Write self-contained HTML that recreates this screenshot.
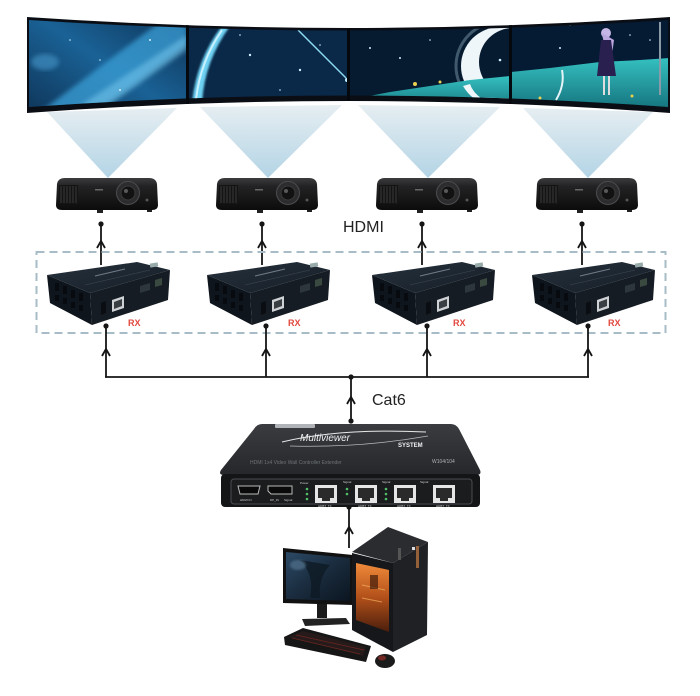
<!DOCTYPE html>
<html><head><meta charset="utf-8"><style>
html,body{margin:0;padding:0;background:#fff;}
svg{display:block;}
</style></head><body>
<svg width="700" height="696" viewBox="0 0 700 696" xmlns="http://www.w3.org/2000/svg" font-family="Liberation Sans, sans-serif">
<defs>
  <linearGradient id="cone" x1="0" y1="0" x2="0" y2="1">
    <stop offset="0" stop-color="#e6eef2"/>
    <stop offset="1" stop-color="#b3d4e5"/>
  </linearGradient>
  <linearGradient id="projG" x1="0" y1="0" x2="0" y2="1">
    <stop offset="0" stop-color="#3c3c3e"/>
    <stop offset="0.25" stop-color="#232325"/>
    <stop offset="1" stop-color="#0c0c0d"/>
  </linearGradient>
  <linearGradient id="rxTop" x1="0" y1="0" x2="1" y2="1">
    <stop offset="0" stop-color="#26313c"/>
    <stop offset="1" stop-color="#161e27"/>
  </linearGradient>
  <linearGradient id="txTop" x1="0" y1="0" x2="0" y2="1">
    <stop offset="0" stop-color="#3a3c40"/>
    <stop offset="1" stop-color="#25272b"/>
  </linearGradient>
  <linearGradient id="p1" x1="0" y1="1" x2="1" y2="0">
    <stop offset="0" stop-color="#0e3356"/>
    <stop offset="0.5" stop-color="#1a6296"/>
    <stop offset="1" stop-color="#0c2e50"/>
  </linearGradient>
  <linearGradient id="grass" x1="0" y1="0" x2="0" y2="1">
    <stop offset="0" stop-color="#35c0c0"/>
    <stop offset="1" stop-color="#136f7a"/>
  </linearGradient>
  <linearGradient id="mon" x1="0" y1="0" x2="1" y2="1">
    <stop offset="0" stop-color="#2c4a66"/>
    <stop offset="0.5" stop-color="#1a2c3e"/>
    <stop offset="1" stop-color="#0b1520"/>
  </linearGradient>
  <linearGradient id="orange" x1="0" y1="0" x2="0" y2="1">
    <stop offset="0" stop-color="#f08a3a"/>
    <stop offset="0.5" stop-color="#b2501a"/>
    <stop offset="1" stop-color="#4a1e0c"/>
  </linearGradient>
  <filter id="blur2"><feGaussianBlur stdDeviation="2.5"/></filter>
  <filter id="blur1"><feGaussianBlur stdDeviation="1"/></filter>
  <clipPath id="scr"><path d="M29,20 Q350,41 668,20 L668,107 Q350,84 29,107 Z"/></clipPath>
  <clipPath id="frame"><path d="M27,17 Q350,39 670,17 L670,113 Q350,89 27,113 Z"/></clipPath>
  <clipPath id="c1"><rect x="29" y="10" width="158" height="110"/></clipPath>
  <clipPath id="c2"><rect x="188" y="10" width="160" height="110"/></clipPath>
  <clipPath id="c3"><rect x="349" y="10" width="161" height="110"/></clipPath>
  <clipPath id="c4"><rect x="511" y="10" width="158" height="110"/></clipPath>

  <g id="proj">
    <path d="M2,6 Q3,0 10,0 L94,0 Q101,0 102,6 L103,27 Q103,32 97,32 L7,32 Q1,32 1,27 Z" fill="url(#projG)"/>
    <rect x="4" y="7" width="19" height="19" fill="#141414"/>
    <g stroke="#3a3a3a" stroke-width="1">
      <line x1="6" y1="8" x2="6" y2="25"/><line x1="9" y1="8" x2="9" y2="25"/><line x1="12" y1="8" x2="12" y2="25"/>
      <line x1="15" y1="8" x2="15" y2="25"/><line x1="18" y1="8" x2="18" y2="25"/><line x1="21" y1="8" x2="21" y2="25"/>
    </g>
    <rect x="40" y="11" width="8" height="1.5" fill="#666"/>
    <circle cx="73" cy="15" r="11.5" fill="#2c2c2e" stroke="#4c4c4e" stroke-width="1"/>
    <circle cx="73" cy="15" r="7" fill="#121213" stroke="#3a3a3a" stroke-width="1"/>
    <circle cx="71" cy="13" r="2" fill="#5a5a5a"/>
    <circle cx="92" cy="22" r="1.5" fill="#555"/>
    <rect x="42" y="32" width="6" height="3" fill="#222"/>
    <rect x="92" y="32" width="5" height="2" fill="#222"/>
  </g>

  <g id="rx">
    <polygon points="47,275 90,293 92,325 50,303" fill="#0f151c"/>
    <polygon points="47,275 137,262 170,270 90,293" fill="url(#rxTop)"/>
    <polygon points="90,293 170,270 168,300 92,325" fill="#151c24"/>
    <g fill="#070b10">
      <rect x="55" y="283" width="4" height="8"/><rect x="63" y="286" width="4" height="8"/>
      <rect x="71" y="290" width="4" height="8"/><rect x="79" y="293" width="4" height="8"/>
      <rect x="55" y="295" width="4" height="6"/><rect x="63" y="298" width="4" height="6"/>
      <rect x="71" y="302" width="4" height="6"/><rect x="79" y="305" width="4" height="6"/>
    </g>
    <line x1="95" y1="276" x2="125" y2="269" stroke="#6f7c88" stroke-width="1"/>
    <line x1="85" y1="285" x2="150" y2="270" stroke="#3c4854" stroke-width="0.6"/>
    <rect x="150" y="263" width="8" height="4" fill="#9aa" transform="rotate(-9 154 265)"/>
    <polygon points="112,300 124,296 124,308 112,312" fill="#cfd2d4"/>
    <polygon points="114,302 122,299 122,306 114,309" fill="#3a3f44"/>
    <polygon points="101,303 106,301 106,313 101,315" fill="#0a0e12"/>
    <polygon points="140,286 150,283 150,290 140,293" fill="#2d353d"/>
    <polygon points="155,280 162,278 162,285 155,287" fill="#3b4a40"/>
  </g>
</defs>

<!-- light cones -->
<polygon points="47,112 177,108 108,178" fill="url(#cone)"/>
<polygon points="200,107 342,105 268,178" fill="url(#cone)"/>
<polygon points="358,105 500,107 428,178" fill="url(#cone)"/>
<polygon points="523,108 653,112 588,178" fill="url(#cone)"/>

<!-- screens frame -->
<path d="M27,17 Q350,39 670,17 L670,113 Q350,89 27,113 Z" fill="#0a0e14"/>
<g clip-path="url(#scr)">
  <g clip-path="url(#c1)">
    <rect x="29" y="10" width="158" height="110" fill="url(#p1)"/>
    <path d="M40,112 L95,112 L187,45 L187,18 L165,18 Z" fill="#3a9fd6" opacity="0.75" filter="url(#blur2)"/>
    <path d="M70,112 L100,112 L187,50 L187,35 Z" fill="#7fcdf0" opacity="0.5" filter="url(#blur2)"/>
    <ellipse cx="45" cy="62" rx="14" ry="8" fill="#3f8ec0" opacity="0.7" filter="url(#blur2)"/>
  </g>
  <g clip-path="url(#c2)">
    <rect x="188" y="10" width="160" height="110" fill="#0a2848"/>
    <path d="M192,104 Q196,60 222,26 L230,26 Q204,62 202,104 Z" fill="#6ed2f3" filter="url(#blur1)"/>
    <path d="M196,100 Q200,62 222,30" stroke="#c8f0ff" stroke-width="2" fill="none"/>
    <line x1="298" y1="30" x2="346" y2="78" stroke="#8fd8f0" stroke-width="1.5"/>
    <circle cx="347" cy="80" r="2" fill="#bfefff"/>
  </g>
  <g clip-path="url(#c3)">
    <rect x="349" y="10" width="161" height="110" fill="#061a30"/>
    <circle cx="500" cy="66" r="44" fill="none" stroke="#9ab8c8" stroke-width="3" opacity="0.4"/>
    <circle cx="500" cy="66" r="39" fill="#eef6fa"/>
    <circle cx="513" cy="62" r="34" fill="#061a30"/>
    <polygon points="349,100 390,92 430,86 470,80 510,76 510,112 349,112" fill="url(#grass)"/>
    <path d="M463,86 Q470,98 482,103 L490,103 Q474,96 470,84 Z" fill="#eef6fa"/>
    <circle cx="415" cy="84" r="2" fill="#e8d050"/>
    <circle cx="440" cy="82" r="1.5" fill="#e8d050"/>
  </g>
  <g clip-path="url(#c4)">
    <rect x="511" y="10" width="158" height="110" fill="#051a33"/>
    <polygon points="511,72 550,68 600,62 640,60 669,58 669,112 511,112" fill="url(#grass)"/>
    <line x1="660" y1="22" x2="660" y2="95" stroke="#8a9aa6" stroke-width="2"/>
    <path d="M556,100 Q565,85 562,70" stroke="#e6f4f8" stroke-width="2" fill="none"/>
    <circle cx="606" cy="33" r="5" fill="#c6b6e6"/>
    <path d="M602,33 Q603,45 612,55 L614,40 Z" fill="#b8a6dc"/>
    <polygon points="601,40 611,40 616,76 597,76" fill="#2a2050"/>
    <line x1="604" y1="76" x2="604" y2="95" stroke="#ddd" stroke-width="2"/>
    <line x1="609" y1="76" x2="609" y2="95" stroke="#ddd" stroke-width="2"/>
    <circle cx="540" cy="98" r="1.5" fill="#e8d050"/>
    <circle cx="632" cy="96" r="1.5" fill="#e8d050"/>
  </g>
  <g fill="#cfefff">
    <circle cx="150" cy="40" r="1"/><circle cx="120" cy="90" r="1"/><circle cx="70" cy="40" r="0.8"/><circle cx="100" cy="60" r="0.8"/>
    <circle cx="250" cy="55" r="1.2"/><circle cx="300" cy="70" r="1.2"/><circle cx="240" cy="35" r="0.8"/><circle cx="280" cy="90" r="0.8"/><circle cx="320" cy="45" r="0.8"/>
    <circle cx="370" cy="48" r="1"/><circle cx="400" cy="58" r="1"/><circle cx="430" cy="40" r="0.8"/><circle cx="500" cy="60" r="1.3"/>
    <circle cx="560" cy="48" r="1"/><circle cx="570" cy="25" r="0.8"/><circle cx="630" cy="35" r="0.8"/><circle cx="650" cy="40" r="0.8"/>
  </g>
</g>
<!-- dividers -->
<g stroke="#05080c" stroke-width="3" clip-path="url(#frame)">
  <line x1="187.5" y1="10" x2="187.5" y2="120"/>
  <line x1="348.5" y1="10" x2="348.5" y2="120"/>
  <line x1="510.5" y1="10" x2="510.5" y2="120"/>
</g>

<!-- projectors -->
<use href="#proj" x="55" y="178"/>
<use href="#proj" x="215" y="178"/>
<use href="#proj" x="375" y="178"/>
<use href="#proj" x="535" y="178"/>

<!-- top connectors -->
<g stroke="#151515" stroke-width="1.8" fill="none">
  <line x1="101" y1="224" x2="101" y2="265"/>
  <line x1="262" y1="224" x2="262" y2="265"/>
  <line x1="422" y1="224" x2="422" y2="265"/>
  <line x1="582" y1="224" x2="582" y2="265"/>
  <path d="M97,248 L101,241 L105,248"/>
  <path d="M258,248 L262,241 L266,248"/>
  <path d="M418,248 L422,241 L426,248"/>
  <path d="M578,248 L582,241 L586,248"/>
</g>
<g fill="#151515">
  <circle cx="101" cy="224" r="2.6"/><circle cx="262" cy="224" r="2.6"/>
  <circle cx="422" cy="224" r="2.6"/><circle cx="582" cy="224" r="2.6"/>
</g>
<text x="343" y="232" font-size="16" fill="#222">HDMI</text>

<!-- dashed box -->
<rect x="36.5" y="252" width="629" height="81" fill="none" stroke="#a7bcc7" stroke-width="2" stroke-dasharray="8 5"/>

<!-- RX boxes -->
<use href="#rx" x="0" y="0"/>
<use href="#rx" x="160" y="0"/>
<use href="#rx" x="325" y="0"/>
<use href="#rx" x="485" y="0"/>
<g font-size="9" font-weight="bold" fill="#e2463c">
  <text x="128" y="326">RX</text>
  <text x="288" y="326">RX</text>
  <text x="453" y="326">RX</text>
  <text x="608" y="326">RX</text>
</g>

<!-- lower connectors -->
<g stroke="#151515" stroke-width="1.8" fill="none">
  <line x1="106" y1="326" x2="106" y2="377"/>
  <line x1="266" y1="326" x2="266" y2="377"/>
  <line x1="427" y1="326" x2="427" y2="377"/>
  <line x1="588" y1="326" x2="588" y2="377"/>
  <line x1="105" y1="377" x2="589" y2="377"/>
  <line x1="351" y1="377" x2="351" y2="421"/>
  <path d="M102,356 L106,349 L110,356"/>
  <path d="M262,356 L266,349 L270,356"/>
  <path d="M423,356 L427,349 L431,356"/>
  <path d="M584,356 L588,349 L592,356"/>
  <path d="M347,404 L351,397 L355,404"/>
  <line x1="349" y1="507" x2="349" y2="548"/>
  <path d="M345,534 L349,527 L353,534"/>
</g>
<g fill="#151515">
  <circle cx="106" cy="326" r="2.6"/><circle cx="266" cy="326" r="2.6"/>
  <circle cx="427" cy="326" r="2.6"/><circle cx="588" cy="326" r="2.6"/>
  <circle cx="351" cy="377" r="2.6"/>
  <circle cx="351" cy="421" r="2.6"/>
  <circle cx="349" cy="507" r="2.6"/>
</g>
<text x="372" y="405" font-size="16" fill="#222">Cat6</text>

<!-- TX box -->
<path d="M262,424 L451,424 Q456,424 459,429 L480,470 Q482,475 476,475 L224,475 Q218,475 221,470 L254,429 Q257,424 262,424 Z" fill="url(#txTop)"/>
<rect x="221" y="474" width="259" height="33" rx="4" fill="#141517"/>
<rect x="231" y="479" width="241" height="25" rx="3" fill="#1b1c1e" stroke="#4a4c50" stroke-width="1"/>
<rect x="275" y="424" width="40" height="4" rx="1" fill="#cfd3d8" opacity="0.8"/>
<path d="M282,442 Q340,428 426,432" stroke="#e8e8e8" stroke-width="1" fill="none"/>
<path d="M290,446 Q360,448 428,436" stroke="#bbb" stroke-width="0.8" fill="none"/>
<text x="300" y="441" font-size="10" font-style="italic" fill="#f0f0f0">Multiviewer</text>
<text x="398" y="447" font-size="6" font-weight="bold" fill="#f0f0f0">SYSTEM</text>
<text x="250" y="464" font-size="5" fill="#6f7276">HDMI 1x4 Video Wall Controller Extender</text>
<text x="432" y="463" font-size="5" fill="#b0b3b6">W104/104</text>
<path d="M238,486 L260,486 L258,494 L240,494 Z" fill="#0a0a0a" stroke="#bbb" stroke-width="1"/>
<path d="M268,486 L292,486 L292,494 L271,494 L268,491 Z" fill="#0a0a0a" stroke="#bbb" stroke-width="1"/>
<g fill="#e6e6e6">
  <rect x="315" y="485" width="22" height="18"/><rect x="355" y="485" width="22" height="18"/>
  <rect x="394" y="485" width="22" height="18"/><rect x="433" y="485" width="22" height="18"/>
</g>
<g fill="#2a2a2a">
  <rect x="318" y="488" width="16" height="10"/><rect x="358" y="488" width="16" height="10"/>
  <rect x="397" y="488" width="16" height="10"/><rect x="436" y="488" width="16" height="10"/>
  <rect x="322" y="498" width="8" height="3"/><rect x="362" y="498" width="8" height="3"/>
  <rect x="401" y="498" width="8" height="3"/><rect x="440" y="498" width="8" height="3"/>
</g>
<g fill="#4ec06a">
  <circle cx="307" cy="489" r="1.3"/><circle cx="307" cy="494" r="1.3"/><circle cx="307" cy="499" r="1.3"/>
  <circle cx="347" cy="489" r="1.3"/><circle cx="347" cy="494" r="1.3"/>
  <circle cx="386" cy="489" r="1.3"/><circle cx="386" cy="494" r="1.3"/><circle cx="386" cy="499" r="1.3"/>
</g>
<g font-size="3" fill="#cfcfcf">
  <text x="240" y="501">HDMI IN</text><text x="270" y="501">DP_IN</text><text x="284" y="501">Signal</text>
  <text x="318" y="507">HDBT_TX</text><text x="358" y="507">HDBT_TX</text><text x="397" y="507">HDBT_TX</text><text x="436" y="507">HDBT_TX</text>
  <text x="300" y="484">Power</text><text x="343" y="483">Signal</text><text x="382" y="483">Signal</text><text x="420" y="483">Signal</text>
</g>

<!-- PC -->
<polygon points="283,548 353,555 353,605 283,603" fill="#111"/>
<polygon points="286,552 350,558 350,601 286,599" fill="url(#mon)"/>
<path d="M300,560 Q315,575 310,598 L320,598 Q318,578 330,565 Z" fill="#0e1a24" opacity="0.8"/>
<ellipse cx="298" cy="565" rx="8" ry="5" fill="#5a7a96" opacity="0.6" filter="url(#blur1)"/>
<rect x="317" y="604" width="10" height="14" fill="#1a1a1a"/>
<path d="M302,619 L346,618 L350,624 L305,626 Z" fill="#222"/>
<polygon points="352,552 388,527 428,542 393,563" fill="#2a2c30"/>
<polygon points="352,553 393,563 393,652 352,630" fill="#16171a"/>
<polygon points="393,563 428,542 427,635 393,652" fill="#1f2125"/>
<polygon points="356,563 389,570 389,632 356,620" fill="url(#orange)"/>
<g stroke="#f5b060" stroke-width="1" opacity="0.7">
  <line x1="362" y1="585" x2="385" y2="590"/><line x1="362" y1="598" x2="382" y2="602"/>
</g>
<rect x="370" y="575" width="8" height="14" fill="#2a0e05" opacity="0.6"/>
<rect x="416" y="546" width="3" height="22" fill="#b07040" opacity="0.8"/>
<rect x="412" y="547" width="3" height="3" fill="#ddd"/>
<rect x="398" y="548" width="3" height="12" fill="#555"/>
<polygon points="284,637 303,628 371,646 366,662 285,645" fill="#161616"/>
<polygon points="288,637 303,631 366,647 363,656" fill="#2a1c1c" opacity="0.8"/>
<g stroke="#7a2a22" stroke-width="0.8" opacity="0.8">
  <line x1="292" y1="638" x2="360" y2="654"/><line x1="296" y1="635" x2="364" y2="650"/>
</g>
<ellipse cx="385" cy="661" rx="10" ry="7" fill="#1b1b1b"/>
<ellipse cx="382" cy="658" rx="4" ry="2.5" fill="#8a2a24" opacity="0.8"/>
</svg>
</body></html>
